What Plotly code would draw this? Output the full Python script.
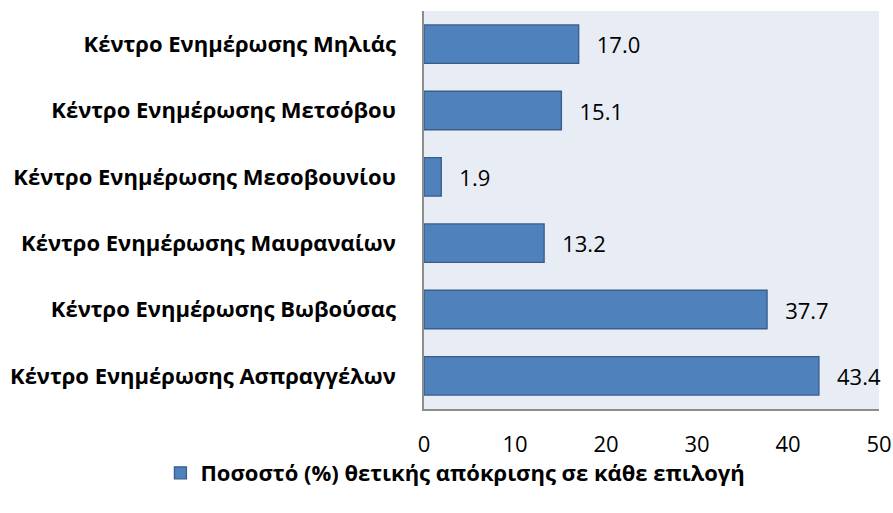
import plotly.graph_objects as go

categories = [
    "Κέντρο Ενημέρωσης Μηλιάς",
    "Κέντρο Ενημέρωσης Μετσόβου",
    "Κέντρο Ενημέρωσης Μεσοβουνίου",
    "Κέντρο Ενημέρωσης Μαυραναίων",
    "Κέντρο Ενημέρωσης Βωβούσας",
    "Κέντρο Ενημέρωσης Ασπραγγέλων",
]
values = [17.0, 15.1, 1.9, 13.2, 37.7, 43.4]
series_name = "Ποσοστό (%) θετικής απόκρισης σε κάθε επιλογή"
x_ticks = [0, 10, 20, 30, 40, 50]

FONT = "Open Sans, Noto Sans, sans-serif"

fig = go.Figure(
    go.Bar(
        y=categories,
        x=values,
        orientation="h",
        name=series_name,
        marker=dict(color="#4F81BD", line=dict(color="#385D8A", width=1.3)),
        texttemplate="\u00a0\u00a0\u2009%{x:.1f}",
        textposition="outside",
        textfont=dict(family=FONT, size=22, color="#000000"),
        cliponaxis=False,
        showlegend=True,
    )
)

fig.update_layout(
    width=893,
    height=513,
    margin=dict(l=424, r=14, t=11, b=104, autoexpand=False),
    paper_bgcolor="#FFFFFF",
    plot_bgcolor="#E8ECF4",
    bargap=0.42,
    font=dict(family=FONT, color="#000000"),
    legend=dict(
        orientation="h",
        xref="container",
        yref="container",
        x=0.51,
        xanchor="center",
        y=0.078,
        yanchor="middle",
        bgcolor="rgba(0,0,0,0)",
        font=dict(family=FONT, size=22, color="#000000", weight="bold"),
        itemwidth=30,
    ),
)

fig.update_xaxes(
    range=[0, 50],
    tickvals=x_ticks,
    ticktext=[str(v) for v in x_ticks],
    showgrid=False,
    zeroline=False,
    showline=True,
    linecolor="#8C8C8C",
    linewidth=1.5,
    ticks="outside",
    ticklen=15,
    tickcolor="rgba(0,0,0,0)",
    tickfont=dict(family=FONT, size=22, color="#000000"),
)

fig.update_yaxes(
    autorange="reversed",
    showgrid=False,
    zeroline=False,
    showline=True,
    linecolor="#8C8C8C",
    linewidth=1.5,
    ticks="outside",
    ticklen=22,
    tickcolor="rgba(0,0,0,0)",
    tickfont=dict(family=FONT, size=22, color="#000000", weight="bold"),
)

fig.write_html(
    "out.html",
    config={"displayModeBar": False},
    post_script="document.body.style.margin='0px';document.body.style.overflow='hidden';",
)
